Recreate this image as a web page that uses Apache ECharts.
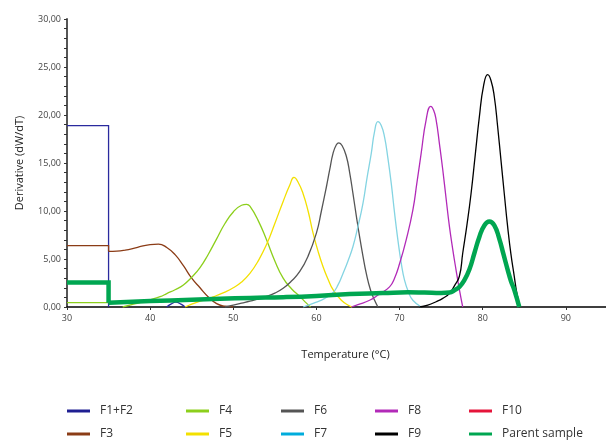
<!DOCTYPE html>
<html>
<head>
  <meta charset="UTF-8">
  <title>Derivative curves</title>
  <style>
    html, body { margin: 0; padding: 0; background: #fff; }
    #chart { width: 606px; height: 441px; }
  </style>
  <script src="https://cdn.jsdelivr.net/npm/echarts@6/dist/echarts.min.js"></script>
</head>
<body>
  <div id="chart"></div>
  <script>
    // x ticks / y ticks
    var xTicks = [30, 40, 50, 60, 70, 80, 90];
    var yTicks = [0, 5, 10, 15, 20, 25, 30];

    var seriesNames = ['F1+F2', 'F3', 'F4', 'F5', 'F6', 'F7', 'F8', 'F9', 'F10', 'Parent sample'];
    var legendColors = ['#1f1f92', '#8b3c16', '#8ccf1c', '#f3e000', '#555555', '#00acdc', '#b22ab8', '#000000', '#e5143a', '#00a651'];
    var lineColors = ['#2a2a9e', '#8b3c16', '#8ccf1c', '#f3e000', '#555555', '#84d4e2', '#b22ab8', '#000000', '#e5143a', '#00a651'];

    // [temperature, dW/dT]
    // step parts (straight) and curved parts kept apart
    var f12Step = [[30, 18.9], [35, 18.9], [35, 0]];
    var f12Curve = [[42, 0], [42.5, 0.3], [43.1, 0.5], [43.7, 0.3], [44.2, 0]];

    var f3Step = [[30, 6.4], [35, 6.4], [35, 5.8]];
    var f3Curve = [[35, 5.8], [36, 5.82], [37, 5.92], [38, 6.1], [39, 6.33], [40, 6.5], [41, 6.55], [42, 6.2],
      [43, 5.45], [44, 4.3], [45, 3.0], [46, 2.0], [47, 1.05], [48, 0.35], [49, 0.08], [50, 0]];

    var f4Step = [[30, 0.45], [35, 0.45]];
    var f4Curve = [[36.7, 0], [38, 0.3], [40, 0.75], [41.2, 1.07], [42, 1.4], [43, 1.8], [44, 2.3], [45, 3.1],
      [46, 4.1], [47, 5.5], [48, 7.1], [49, 8.7], [50, 9.9], [51, 10.6], [51.6, 10.7], [52, 10.5], [53, 9.0],
      [54, 7.0], [55, 4.8], [56, 3.0], [57, 1.9], [58, 1.1], [58.8, 0.4], [59.3, 0]];

    var f5Curve = [[44.2, 0], [45, 0.3], [46, 0.6], [47, 0.85], [48, 1.2], [49, 1.55], [50, 2.0], [51, 2.6],
      [52, 3.5], [53, 4.8], [54, 6.5], [55, 8.7], [56, 11.0], [56.8, 12.7], [57.3, 13.5], [57.8, 13.0],
      [58.4, 11.8], [59, 10.0], [59.6, 7.7], [60.2, 5.8], [60.8, 4.2], [61.4, 2.9], [62, 1.8], [63, 0.7],
      [64, 0.1], [64.3, 0]];

    var f6Curve = [[49, 0], [50, 0.2], [51, 0.4], [52, 0.6], [53, 0.85], [54, 1.1], [55, 1.45], [56, 1.95],
      [57, 2.7], [58, 3.7], [59, 5.3], [60, 7.7], [60.6, 10.0], [61.2, 12.5], [61.6, 14.3], [62, 16.0],
      [62.4, 16.9], [62.7, 17.1], [63.1, 16.8], [63.6, 15.7], [64, 14.0], [64.4, 11.8], [64.8, 9.5],
      [65.2, 7.3], [65.6, 5.3], [66, 3.5], [66.5, 1.8], [67, 0.7], [67.4, 0]];

    var f7Curve = [[58.4, 0], [60, 0.5], [61, 0.9], [62, 1.5], [62.6, 2.3], [63.2, 3.5], [63.8, 4.8],
      [64.4, 6.3], [65, 8.4], [65.6, 10.8], [66.1, 13.5], [66.6, 16.0], [67, 18.3], [67.4, 19.3],
      [67.8, 18.9], [68.2, 17.7], [68.6, 15.5], [69, 12.9], [69.4, 9.8], [69.8, 7.0], [70.2, 4.6],
      [70.6, 2.8], [71.1, 1.5], [71.6, 0.7], [72.6, 0]];

    var f8Curve = [[64.2, 0], [65, 0.25], [66.4, 0.7], [67.5, 1.3], [68.8, 2.1], [69.4, 3.0], [70, 4.5],
      [70.8, 7.0], [71.6, 10.1], [72.1, 13.0], [72.6, 16.0], [73.2, 19.5], [73.75, 20.9], [74.1, 20.5],
      [74.4, 19.5], [74.8, 17.0], [75.2, 14.3], [75.6, 11.3], [76, 8.4], [76.4, 6.0], [76.8, 3.85],
      [77.2, 1.8], [77.6, 0]];

    var f9Curve = [[72.4, 0], [73.4, 0.2], [74.4, 0.55], [75.2, 0.9], [76, 1.4], [76.6, 2.2], [77.2, 3.2],
      [77.6, 5.6], [78.1, 8.5], [78.6, 11.8], [79.1, 15.8], [79.6, 19.8], [80.1, 23.0], [80.6, 24.2],
      [81, 23.6], [81.4, 21.9], [81.8, 18.8], [82.2, 15.3], [82.6, 11.8], [83, 8.4], [83.4, 5.5],
      [83.8, 3.2], [84.1, 1.5], [84.5, 0]];

    var f10Curve = [];

    var parentStep = [[30, 2.55], [35, 2.55], [35, 0.45]];
    var parentCurve = [[35, 0.45], [40, 0.62], [45, 0.75], [48.4, 0.86], [52, 0.95], [56, 1.02], [60, 1.15],
      [64, 1.35], [68, 1.45], [71, 1.53], [73, 1.5], [75, 1.45], [76, 1.5], [76.6, 1.75], [77.2, 2.1],
      [77.8, 2.8], [78.4, 3.9], [79, 5.6], [79.6, 7.3], [80.2, 8.5], [80.8, 8.9], [81.4, 8.5], [82, 7.1],
      [82.5, 5.5], [83, 3.9], [83.4, 2.7], [83.8, 1.8], [84.4, 0]];

    var parts = [
      ['F1+F2', f12Step, false], ['F1+F2', f12Curve, true],
      ['F3', f3Step, false], ['F3', f3Curve, true],
      ['F4', f4Step, false], ['F4', f4Curve, true],
      ['F5', f5Curve, true],
      ['F6', f6Curve, true],
      ['F7', f7Curve, true],
      ['F8', f8Curve, true],
      ['F9', f9Curve, true],
      ['F10', f10Curve, true],
      ['Parent sample', parentStep, false], ['Parent sample', parentCurve, true]
    ];

    var font = 'Open Sans';

    var series = parts.map(function (p) {
      var i = seriesNames.indexOf(p[0]);
      var isParent = p[0] === 'Parent sample';
      return {
        name: p[0],
        type: 'line',
        data: p[1],
        smooth: p[2] ? 0.5 : false,
        showSymbol: false,
        symbol: 'none',
        color: legendColors[i],
        lineStyle: { color: lineColors[i], width: isParent ? 4.5 : 1.3, join: 'miter' },
        emphasis: { disabled: true },
        z: isParent ? 5 : 3
      };
    });

    // legend: five columns of two rows
    var legendCols = [[0, 1], [2, 3], [4, 5], [6, 7], [8, 9]];
    var legendLeft = [67, 186, 281, 375, 469];
    var legends = legendCols.map(function (col, k) {
      return {
        orient: 'vertical',
        left: legendLeft[k],
        top: 404,
        padding: 0,
        height: 37,
        itemWidth: 23,
        itemHeight: 3,
        itemGap: 9,
        icon: 'rect',
        selectedMode: false,
        itemStyle: { borderWidth: 0 },
        textStyle: { fontFamily: font, fontSize: 12, color: '#333', lineHeight: 14, padding: [0, 0, 0, 5] },
        data: col.map(function (j) {
          return { name: seriesNames[j], itemStyle: { color: legendColors[j], borderWidth: 0 } };
        })
      };
    });

    var chart = echarts.init(document.getElementById('chart'), null, { renderer: 'canvas' });
    chart.setOption({
      animation: false,
      backgroundColor: '#fff',
      grid: { left: 67, width: 557, top: 19, bottom: 134, containLabel: false, outerBoundsMode: 'none' },
      legend: legends,
      xAxis: {
        type: 'value',
        min: xTicks[0],
        max: 97,
        interval: 10,
        name: 'Temperature (°C)',
        nameLocation: 'middle',
        nameGap: 42,
        nameTextStyle: { fontFamily: font, fontSize: 11, color: '#222' },
        axisLine: { lineStyle: { color: '#000', width: 1.5 } },
        axisTick: { show: true, length: 3, lineStyle: { color: '#333' } },
        axisLabel: {
          fontFamily: font, fontSize: 9, color: '#444', margin: 7,
          formatter: function (v) { return xTicks.indexOf(v) >= 0 ? String(v) : ''; }
        },
        splitLine: { show: false }
      },
      yAxis: {
        type: 'value',
        min: yTicks[0],
        max: yTicks[yTicks.length - 1],
        interval: 5,
        name: 'Derivative (dW/dT)',
        nameLocation: 'middle',
        nameGap: 42,
        nameTextStyle: { fontFamily: font, fontSize: 11, color: '#222' },
        axisLine: { show: true, lineStyle: { color: '#555', width: 2 } },
        axisTick: { show: true, length: 3, lineStyle: { color: '#333' } },
        minorTick: { show: true, splitNumber: 5, length: 3, lineStyle: { color: '#333' } },
        axisLabel: {
          fontFamily: font, fontSize: 9, color: '#444', margin: 6,
          formatter: function (v) { return v.toFixed(2).replace('.', ','); }
        },
        splitLine: { show: false }
      },
      series: series
    });
  </script>
</body>
</html>
